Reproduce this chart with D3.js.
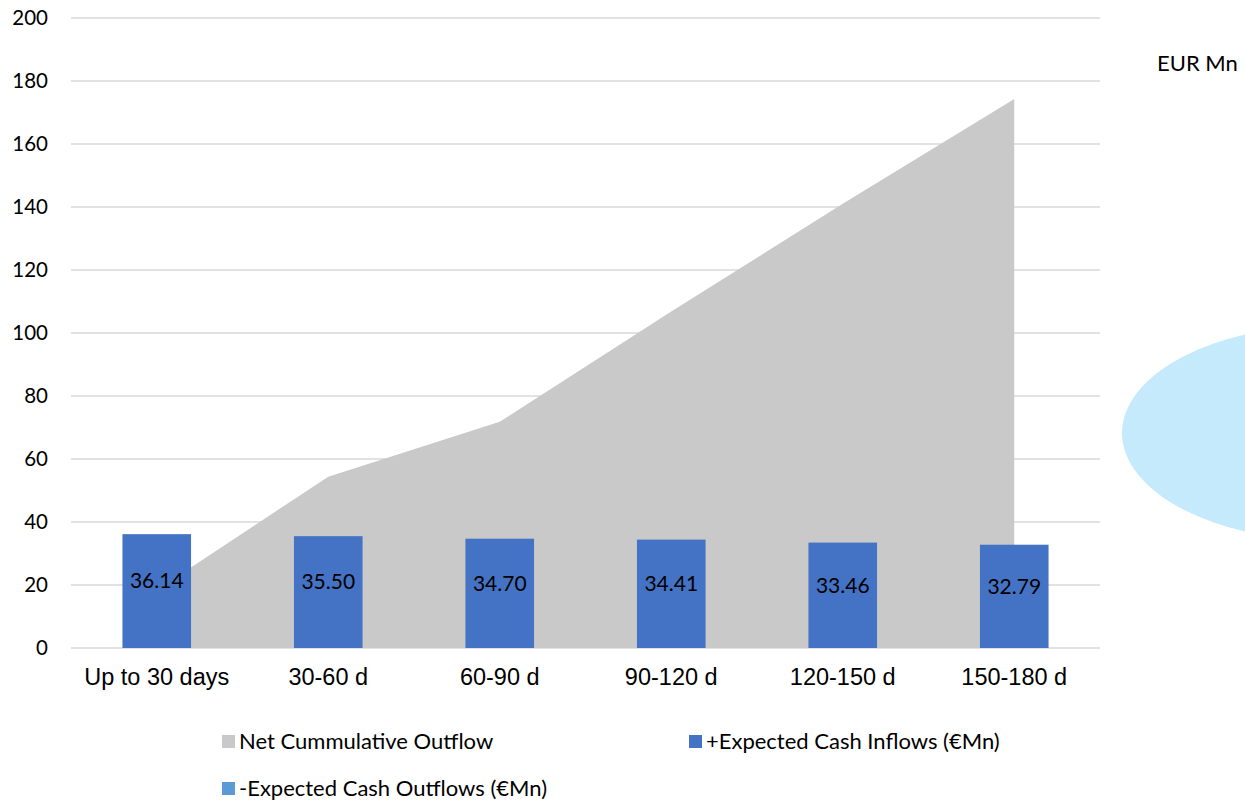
<!DOCTYPE html>
<html>
<head>
<meta charset="utf-8">
<script src="https://cdn.jsdelivr.net/npm/d3@7"></script>
<style>
  body { margin: 0; background: #fff; }
  svg { display: block; }
  .tick-y { font-family: Lato, "Noto Sans", sans-serif; font-size: 20.5px; fill: #000; }
  .tick-x { font-family: "Liberation Sans", Arial, sans-serif; font-size: 23.5px; fill: #000; }
  .bar-label { font-family: Lato, "Noto Sans", sans-serif; font-size: 21px; fill: #000; }
  .legend-text { font-family: Lato, "Noto Sans", sans-serif; font-size: 22px; fill: #000; }
</style>
</head>
<body>
<svg id="chart" width="1245" height="800"></svg>
<script>
// categories and series
const categories = ["Up to 30 days", "30-60 d", "60-90 d", "90-120 d", "120-150 d", "150-180 d"];
const inflows = [36.14, 35.50, 34.70, 34.41, 33.46, 32.79];
const netCumulative = [18.4, 54.4, 71.8, 106.8, 141.0, 174.3];
const yTicks = [0, 20, 40, 60, 80, 100, 120, 140, 160, 180, 200];

const svg = d3.select("#chart");

// plot area
const plotLeft = 71, plotRight = 1100, plotTop = 18, plotBottom = 648;

const x = d3.scaleBand()
  .domain(categories)
  .range([plotLeft, plotRight])
  .paddingInner(0.6)
  .paddingOuter(0.3);

const y = d3.scaleLinear()
  .domain([0, 200])
  .range([plotBottom, plotTop]);

// decorative ellipse on the right
svg.append("ellipse")
  .attr("cx", 1330)
  .attr("cy", 433)
  .attr("rx", 208)
  .attr("ry", 108)
  .attr("fill", "#C5EAFC");

// gridlines
svg.append("g")
  .selectAll("line")
  .data(yTicks)
  .join("line")
    .attr("x1", plotLeft)
    .attr("x2", plotRight)
    .attr("y1", d => y(d))
    .attr("y2", d => y(d))
    .attr("stroke", "#D9D9D9")
    .attr("stroke-width", 1.5);

// y tick labels
svg.append("g")
  .selectAll("text")
  .data(yTicks)
  .join("text")
    .attr("class", "tick-y")
    .attr("x", 48)
    .attr("y", d => y(d))
    .attr("dy", "0.35em")
    .attr("text-anchor", "end")
    .text(d => d);

// net cumulative outflow area
const area = d3.area()
  .x((d, i) => x(categories[i]) + x.bandwidth() / 2)
  .y0(y(0))
  .y1(d => y(d));

svg.append("path")
  .datum(netCumulative)
  .attr("d", area)
  .attr("fill", "#C9C9C9");

// inflow bars
svg.append("g")
  .selectAll("rect")
  .data(inflows)
  .join("rect")
    .attr("x", (d, i) => x(categories[i]))
    .attr("y", d => y(d))
    .attr("width", x.bandwidth())
    .attr("height", d => y(0) - y(d))
    .attr("fill", "#4472C4");

// bar value labels
svg.append("g")
  .selectAll("text")
  .data(inflows)
  .join("text")
    .attr("class", "bar-label")
    .attr("x", (d, i) => x(categories[i]) + x.bandwidth() / 2)
    .attr("y", d => y(d * 0.59))
    .attr("dy", "0.35em")
    .attr("text-anchor", "middle")
    .text(d => d.toFixed(2));

// x axis labels
svg.append("g")
  .selectAll("text")
  .data(categories)
  .join("text")
    .attr("class", "tick-x")
    .attr("x", d => x(d) + x.bandwidth() / 2)
    .attr("y", 685)
    .attr("text-anchor", "middle")
    .text(d => d);

// unit label
svg.append("text")
  .attr("class", "legend-text")
  .attr("x", 1157)
  .attr("y", 71)
  .text("EUR Mn");

// legend
const legendItems = [
  { label: "Net Cummulative Outflow", color: "#C9C9C9", lx: 222, ly: 735 },
  { label: "+Expected Cash Inflows (€Mn)", color: "#4472C4", lx: 689, ly: 735 },
  { label: "-Expected Cash Outflows (€Mn)", color: "#5B9BD5", lx: 222, ly: 782 }
];

const legend = svg.append("g")
  .selectAll("g")
  .data(legendItems)
  .join("g")
    .attr("transform", d => `translate(${d.lx},${d.ly})`);

legend.append("rect")
  .attr("width", 13)
  .attr("height", 13)
  .attr("fill", d => d.color);

legend.append("text")
  .attr("class", "legend-text")
  .attr("x", 17)
  .attr("y", 6.5)
  .attr("dy", "0.35em")
  .text(d => d.label);
</script>
</body>
</html>
